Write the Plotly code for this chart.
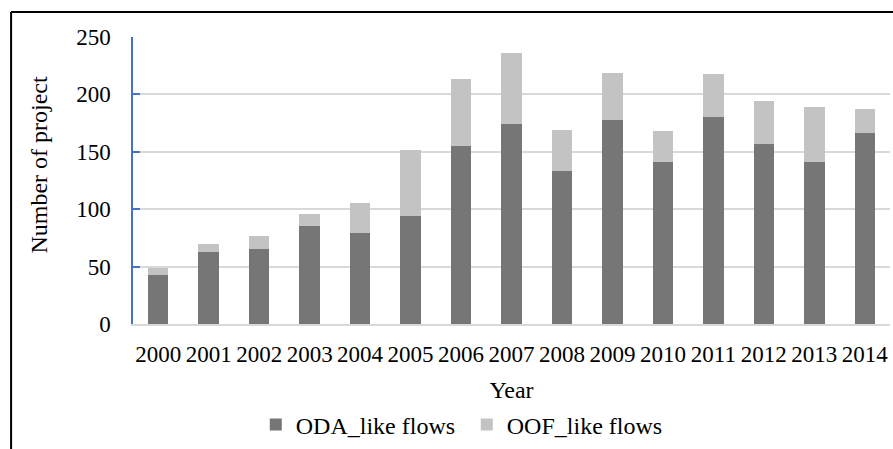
import plotly.graph_objects as go

# Number of projects per year, split by flow type
years = ["2000", "2001", "2002", "2003", "2004", "2005", "2006", "2007",
         "2008", "2009", "2010", "2011", "2012", "2013", "2014"]
oda_like = [43, 63, 65, 85, 79, 94, 155, 174, 133, 178, 141, 180, 157, 141, 166]
oof_like = [6, 7, 12, 11, 26, 58, 58, 62, 36, 41, 27, 38, 37, 48, 21]
y_ticks = [0, 50, 100, 150, 200, 250]

FONT = "Liberation Serif, Times New Roman, serif"
W, H = 893, 449
L, R, T, B = 133, 2.5, 37, 124
pw, ph = W - L - R, H - T - B


def px_x(px):
    return (px - L) / pw


def px_y(py):
    return (H - B - py) / ph


fig = go.Figure()
fig.add_trace(go.Bar(x=years, y=oda_like, name="ODA_like flows",
                     marker=dict(color="#767676", line=dict(width=0))))
fig.add_trace(go.Bar(x=years, y=oof_like, name="OOF_like flows",
                     marker=dict(color="#c3c3c3", line=dict(width=0))))

fig.update_layout(
    width=W, height=H,
    margin=dict(l=L, r=R, t=T, b=B),
    barmode="stack",
    bargap=0.594,
    paper_bgcolor="white",
    plot_bgcolor="white",
    font=dict(family=FONT, size=23, color="black"),
    legend=dict(orientation="h", x=px_x(467), xanchor="center",
                y=px_y(425), yanchor="middle",
                font=dict(family=FONT, size=24), itemwidth=30,
                entrywidth=166, entrywidthmode="pixels",
                traceorder="normal"),
    xaxis=dict(
        type="category",
        showgrid=False,
        showline=True, linecolor="#d9d9d9", linewidth=1.5,
        ticks="", ticklabelstandoff=9,
        tickfont=dict(family=FONT, size=23),
        title=dict(text="Year", font=dict(family=FONT, size=24), standoff=15),
    ),
    yaxis=dict(
        range=[0, 250],
        tickvals=y_ticks,
        showgrid=True, gridcolor="#d9d9d9", gridwidth=1.5,
        zeroline=False,
        showline=True, linecolor="#4472c4", linewidth=1.5,
        ticks="inside", ticklen=7, tickcolor="#4472c4", tickwidth=1.5,
        ticklabelstandoff=16,
        tickfont=dict(family=FONT, size=23),
    ),
    annotations=[
        # y-axis title
        dict(text="Number of project", textangle=-90, showarrow=False,
             xref="paper", yref="paper", x=px_x(38), y=px_y(165),
             xanchor="center", yanchor="middle",
             font=dict(family=FONT, size=24, color="black")),
    ],
    shapes=[
        # outer frame around the chart area
        dict(type="line", xref="paper", yref="paper",
             x0=px_x(11), x1=px_x(900), y0=px_y(12), y1=px_y(12),
             line=dict(color="black", width=2)),
        dict(type="line", xref="paper", yref="paper",
             x0=px_x(11), x1=px_x(11), y0=px_y(12), y1=px_y(460),
             line=dict(color="black", width=2)),
    ],
)

fig.write_html("out.html")
